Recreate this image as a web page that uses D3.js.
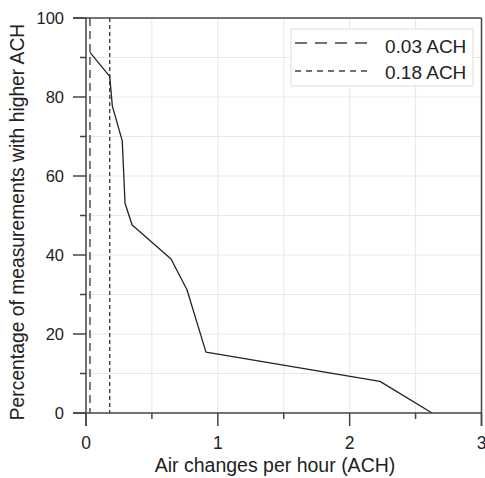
<!DOCTYPE html>
<html>
<head>
<meta charset="utf-8">
<script src="https://cdn.jsdelivr.net/npm/d3@7"></script>
<style>
  body { margin: 0; background: #fff; }
  text { font-family: "Liberation Sans", Arial, sans-serif; fill: #222; }
</style>
</head>
<body>
<div id="chart"></div>
<script>
'use strict'

// values
const ach = [0.03, 0.18, 0.20, 0.275, 0.296, 0.35, 0.645, 0.766, 0.85, 0.91, 2.23, 2.625]
const pct = [91.3, 85.2, 77.7, 68.9, 53.1, 47.6, 39.0, 31.2, 22.0, 15.4, 8.0, 0]
const refLines = [
  { value: 0.03, label: '0.03 ACH', dash: '8,5', legendDash: '12,8' },
  { value: 0.18, label: '0.18 ACH', dash: '4,3', legendDash: '6,5' }
]
const xMajor = [0, 1, 2, 3]
const xMinor = [0.5, 1.5, 2.5]
const yMajor = [0, 20, 40, 60, 80, 100]
const yMinor = [10, 30, 50, 70, 90]

const W = 485, H = 478
const margin = { top: 18, right: 3.5, bottom: 65, left: 86 }
const width = W - margin.left - margin.right
const height = H - margin.top - margin.bottom

const x = d3.scaleLinear().domain([0, 3]).range([0, width])
const y = d3.scaleLinear().domain([0, 100]).range([height, 0])

const svg = d3.select('#chart').append('svg')
  .attr('width', W)
  .attr('height', H)

const chart = svg.append('g')
  .attr('transform', `translate(${margin.left},${margin.top})`)

// grid
const grid = chart.append('g').attr('stroke', '#e8e8e8').attr('stroke-width', 1)
grid.selectAll('.gx')
  .data(xMajor.concat(xMinor).filter(v => v > 0 && v < 3))
  .join('line')
    .attr('x1', d => x(d)).attr('x2', d => x(d))
    .attr('y1', 0).attr('y2', height)
grid.selectAll('.gy')
  .data(yMajor.concat(yMinor).filter(v => v > 0 && v < 100))
  .join('line')
    .attr('x1', 0).attr('x2', width)
    .attr('y1', d => y(d)).attr('y2', d => y(d))

// reference lines
chart.selectAll('.ref')
  .data(refLines)
  .join('line')
    .attr('class', 'ref')
    .attr('x1', d => x(d.value)).attr('x2', d => x(d.value))
    .attr('y1', y(100)).attr('y2', y(0))
    .attr('stroke', '#444')
    .attr('stroke-width', 1.4)
    .attr('stroke-dasharray', d => d.dash)

// data line
const line = d3.line()
  .x((d, i) => x(ach[i]))
  .y(d => y(d))
chart.append('path')
  .datum(pct)
  .attr('fill', 'none')
  .attr('stroke', '#222')
  .attr('stroke-width', 1.3)
  .attr('stroke-linejoin', 'round')
  .attr('d', line)

// axes
const axisCol = '#444'
const ax = chart.append('g').attr('stroke', axisCol).attr('stroke-width', 1.5)
// frame
ax.append('line').attr('x1', -13).attr('x2', width).attr('y1', 0).attr('y2', 0)
ax.append('line').attr('x1', width).attr('x2', width).attr('y1', 0).attr('y2', height + 13)
ax.append('line').attr('x1', -13).attr('x2', width).attr('y1', height).attr('y2', height)
ax.append('line').attr('x1', 0).attr('x2', 0).attr('y1', 0).attr('y2', height + 13)

// x ticks
ax.selectAll('.xmaj').data(xMajor).join('line')
  .attr('x1', d => x(d)).attr('x2', d => x(d))
  .attr('y1', height).attr('y2', height + 13)
ax.selectAll('.xmin').data(xMinor).join('line')
  .attr('x1', d => x(d)).attr('x2', d => x(d))
  .attr('y1', height).attr('y2', height + 6)
// y ticks
ax.selectAll('.ymaj').data(yMajor).join('line')
  .attr('x1', -13).attr('x2', 0)
  .attr('y1', d => y(d)).attr('y2', d => y(d))
ax.selectAll('.ymin').data(yMinor).join('line')
  .attr('x1', -6).attr('x2', 0)
  .attr('y1', d => y(d)).attr('y2', d => y(d))

chart.selectAll('.xlab').data(xMajor).join('text')
  .attr('x', d => x(d))
  .attr('y', height + 36)
  .attr('text-anchor', 'middle')
  .attr('font-size', 17.5)
  .text(d => d)

chart.selectAll('.ylab').data(yMajor).join('text')
  .attr('x', -22)
  .attr('y', d => y(d))
  .attr('dy', '0.35em')
  .attr('text-anchor', 'end')
  .attr('font-size', 16.5)
  .text(d => d)

// axis titles
chart.append('text')
  .attr('x', 189)
  .attr('y', height + 59)
  .attr('text-anchor', 'middle')
  .attr('font-size', 19.5)
  .text('Air changes per hour (ACH)')

chart.append('text')
  .attr('transform', `translate(${-62},${204}) rotate(-90)`)
  .attr('text-anchor', 'middle')
  .attr('font-size', 19.3)
  .text('Percentage of measurements with higher ACH')

// legend
const legend = svg.append('g').attr('transform', 'translate(291,29)')
legend.append('rect')
  .attr('width', 182).attr('height', 57)
  .attr('fill', '#fff')
  .attr('stroke', '#ddd')
const rows = legend.selectAll('.lg').data(refLines).join('g')
  .attr('transform', (d, i) => `translate(0,${14 + i * 28})`)
rows.append('line')
  .attr('x1', 4).attr('x2', 77)
  .attr('stroke', '#444')
  .attr('stroke-width', 1.4)
  .attr('stroke-dasharray', d => d.legendDash)
rows.append('text')
  .attr('x', 94)
  .attr('y', (d, i) => 10 - i * 2)
  .attr('font-size', 19)
  .text(d => d.label)
</script>
</body>
</html>
